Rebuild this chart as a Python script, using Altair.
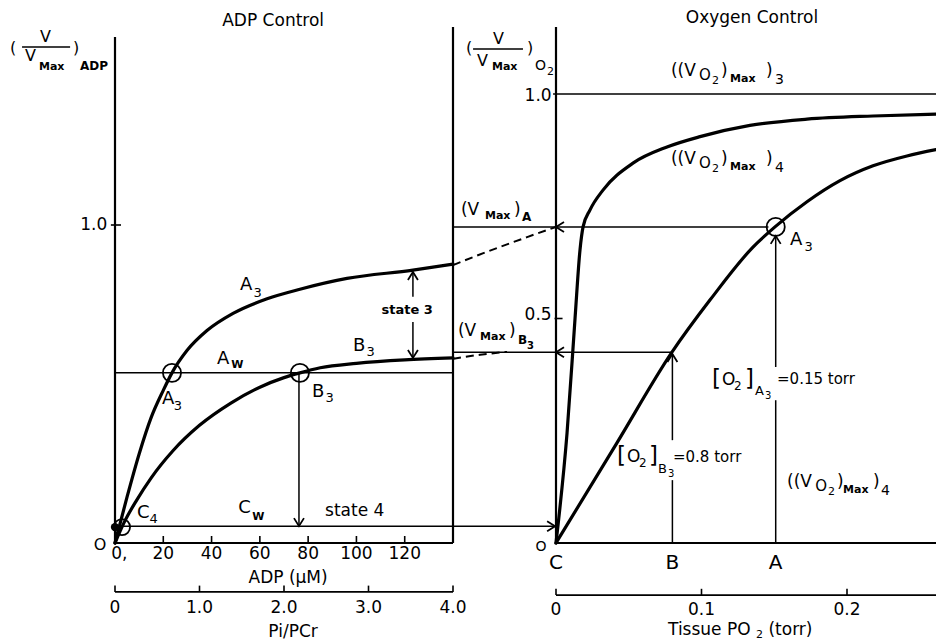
import altair as alt
import pandas as pd

FONT = "DejaVu Sans"

# ---------------- Left panel: ADP control (x = ADP µM, y = (V/Vmax)ADP) -------------
A3_ADP = [0, 5, 10, 15, 20, 23.6, 29.8, 38.1, 48.9, 63.0, 76.6, 96.1, 123.4, 140]
A3_V = [0, 0.145, 0.28, 0.395, 0.48, 0.535, 0.605, 0.668, 0.722, 0.768, 0.798, 0.832, 0.858, 0.877]
B3_ADP = [0, 4, 9, 15, 24, 35, 48, 60, 70, 76.6, 85, 100, 120, 140]
B3_V = [0, 0.068, 0.135, 0.205, 0.29, 0.37, 0.44, 0.49, 0.52, 0.535, 0.551, 0.565, 0.576, 0.582]
# dashed continuations between panels
DASH_A_ADP = [140, 148.3, 159.5, 170.7, 182.7]
DASH_A_V = [0.874, 0.899, 0.931, 0.962, 0.994]
DASH_B_ADP = [140, 151.2, 162.4]
DASH_B_V = [0.579, 0.592, 0.601]
ADP_TICKS = [20, 40, 60, 80, 100, 120]
ADP_LABELS = ["20", "40", "60", "80", "100", "120"]
PI_TICKS = [0, 1, 2, 3, 4]
PI_LABELS = ["0", "1.0", "2.0", "3.0", "4.0"]
AW_LEVEL = 0.535       # A_W working level
STATE4_LEVEL = 0.053   # C_W / state 4 level

# ---------------- Right panel: oxygen control (x = tissue PO2 torr, y = (V/Vmax)O2) ----
VO2MAX4_PO2 = [0, 0.0076, 0.0131, 0.0165, 0.0186, 0.0234, 0.0323, 0.0529, 0.0763, 0.099, 0.1333, 0.1725, 0.2179, 0.2612]
VO2MAX4_V = [0, 0.245, 0.501, 0.653, 0.704, 0.742, 0.786, 0.846, 0.882, 0.905, 0.930, 0.944, 0.951, 0.955]
MAIN_PO2 = [0, 0.0419, 0.0797, 0.1058, 0.1354, 0.1505, 0.1725, 0.1952, 0.2179, 0.2412, 0.2612]
MAIN_V = [0, 0.223, 0.425, 0.541, 0.659, 0.704, 0.760, 0.807, 0.840, 0.862, 0.876]
PO2_TICKS = [0, 0.1, 0.2]
PO2_LABELS = ["0", "0.1", "0.2"]
VMAX_A = 0.704   # (Vmax)_A level in O2 units
VMAX_B3 = 0.425  # (Vmax)_B3 level in O2 units
PO2_A3 = 0.151
PO2_B3 = 0.080

# ---------------- scales (layout) ----------------
LX = alt.Scale(domain=[0, 140], range=[115, 453], nice=False, zero=False)
LY = alt.Scale(domain=[0, 1], range=[543, 225], nice=False, zero=False)
PX = alt.Scale(domain=[0, 4], range=[115, 453], nice=False, zero=False)
RX = alt.Scale(domain=[0, 0.2], range=[556, 847], nice=False, zero=False)
RY = alt.Scale(domain=[0, 1], range=[543, 94], nice=False, zero=False)

layers = []


def xy(sx, sy):
    return dict(x=alt.X("x:Q", scale=sx, axis=None), y=alt.Y("y:Q", scale=sy, axis=None))


def rules(rows, sx, sy):
    df = pd.DataFrame(rows, columns=["x", "y", "x2", "y2", "w"])
    return alt.Chart(df).mark_rule(color="black", strokeCap="butt").encode(
        **xy(sx, sy), x2="x2:Q", y2="y2:Q", strokeWidth=alt.StrokeWidth("w:Q", scale=None))


def curve(xs, ys, sx, sy, width=3.2, dash=None):
    df = pd.DataFrame({"x": xs, "y": ys})
    kw = dict(color="black", strokeWidth=width, interpolate="monotone", strokeCap="round")
    if dash:
        kw["strokeDash"] = dash
        kw["strokeCap"] = "butt"
    return alt.Chart(df).mark_line(**kw).encode(**xy(sx, sy))


def pts(xs, ys, sx, sy, shape, size, filled=False, sw=1.8):
    df = pd.DataFrame({"x": xs, "y": ys})
    return alt.Chart(df).mark_point(shape=shape, size=size, filled=filled, color="black",
                                    strokeWidth=sw, opacity=1).encode(**xy(sx, sy))


def texts(rows, sx, sy, align="left", weight="normal"):
    # rows: (text, x, y, font size)
    df = pd.DataFrame(rows, columns=["t", "x", "y", "s"])
    return alt.Chart(df).mark_text(align=align, baseline="middle", font=FONT, color="black",
                                   fontWeight=weight).encode(
        **xy(sx, sy), text="t:N", size=alt.Size("s:Q", scale=None))


RIGHT = "M-1.6,-1L0,0L-1.6,1"
LEFT = "M1.6,-1L0,0L1.6,1"
UP = "M-1,1.6L0,0L1,1.6"
DOWN = "M-1,-1.6L0,0L1,-1.6"

# ---------- left panel lines ----------
left_rules = [
    (0, 0, 0, 1.591, 2.2),
    (0, 0, 140, 0, 2.2),
    (140, 0, 140, 1.623, 2.2),
    (-1.7, 1.0, 2.5, 1.0, 1.6),
    (0, AW_LEVEL, 140, AW_LEVEL, 1.5),
    (0, STATE4_LEVEL, 182.3, STATE4_LEVEL, 1.5),
    (76.2, AW_LEVEL, 76.2, STATE4_LEVEL, 1.5),
    (123.4, 0.852, 123.4, 0.774, 1.5),
    (123.4, 0.695, 123.4, 0.582, 1.5),
    (-38.5, 1.560, -18.6, 1.560, 1.5),
]
for t in ADP_TICKS:
    left_rules.append((t, 0, t, 0.022, 1.6))
layers.append(rules(left_rules, LX, LY))
layers.append(curve(A3_ADP, A3_V, LX, LY))
layers.append(curve(B3_ADP, B3_V, LX, LY))
layers.append(curve(DASH_A_ADP, DASH_A_V, LX, LY, width=2, dash=[8, 5]))
layers.append(curve(DASH_B_ADP, DASH_B_V, LX, LY, width=2, dash=[8, 5]))
layers.append(pts([23.6, 76.6], [AW_LEVEL, AW_LEVEL], LX, LY, "circle", 330))
layers.append(pts([2.9], [0.05], LX, LY, "circle", 260))
layers.append(pts([0], [0.05], LX, LY, "circle", 70, filled=True))
layers.append(pts([123.4], [0.852], LX, LY, UP, 100))
layers.append(pts([123.4, 76.2], [0.582, STATE4_LEVEL], LX, LY, DOWN, 100))
layers.append(pts([182.3], [STATE4_LEVEL], LX, LY, RIGHT, 100))

# Pi/PCr axis
pi_rules = [(0, -0.154, 4, -0.154, 1.8)] + [(p, -0.154, p, -0.134, 1.6) for p in PI_TICKS]
layers.append(rules(pi_rules, PX, LY))
layers.append(texts([(l, p, -0.204, 17) for p, l in zip(PI_TICKS, PI_LABELS)]
                    + [("Pi/PCr", 2.107, -0.280, 17)], PX, LY, align="center"))

# left texts
layers.append(texts([
    ("(", -43.5, 1.557, 16), ("V", -31.1, 1.590, 16), ("V", -37.3, 1.530, 16),
    (")", -17.4, 1.557, 16),
    ("A", 51.8, 0.811, 18), ("3", 57.4, 0.786, 13),
    ("A", 42.3, 0.579, 18),
    ("A", 19.5, 0.453, 18), ("3", 24.3, 0.432, 13),
    ("B", 81.6, 0.475, 18), ("3", 87.2, 0.457, 13),
    ("B", 98.6, 0.619, 18), ("3", 104.2, 0.600, 13),
    ("C", 9.1, 0.094, 18), ("4", 14.3, 0.076, 13),
    ("C", 51.0, 0.110, 18), ("state 4", 87.0, 0.101, 17),
], LX, LY))
layers.append(texts([
    ("Max", -31.5, 1.497, 11), ("ADP", -14.5, 1.500, 12),
    ("W", 48.1, 0.560, 11), ("W", 56.8, 0.082, 11),
], LX, LY, weight="bold"))
layers.append(texts([(l, t, -0.035, 17) for t, l in zip(ADP_TICKS, ADP_LABELS)] + [
    ("0,", 1.8, -0.035, 17), ("O", -6.2, -0.006, 16),
    ("ADP (μM)", 71.7, -0.110, 17), ("ADP  Control", 65.5, 1.642, 17),
], LX, LY, align="center"))
layers.append(texts([("state 3", 121.0, 0.733, 13)], LX, LY, align="center", weight="bold"))
layers.append(texts([("1.0", -3.2, 1.0, 17)], LX, LY, align="right"))

# ---------- right panel lines ----------
right_rules = [
    (0, 0, 0, 1.149, 2.2),
    (0, 0, 0.262, 0, 2.2),
    (-0.002, 1.0, 0.262, 1.0, 1.6),
    (-0.001, 0.5, 0.0045, 0.5, 1.6),
    (-0.0701, VMAX_A, PO2_A3 - 0.005, VMAX_A, 1.5),
    (-0.0701, VMAX_B3, PO2_B3, VMAX_B3, 1.5),
    (PO2_B3, 0, PO2_B3, 0.140, 1.5),
    (PO2_B3, 0.229, PO2_B3, 0.421, 1.5),
    (PO2_A3, 0, PO2_A3, 0.318, 1.5),
    (PO2_A3, 0.392, PO2_A3, 0.684, 1.5),
    (0, -0.116, 0.262, -0.116, 1.8),
    (-0.0570, 1.100, -0.0227, 1.100, 1.5),
]
for t in PO2_TICKS:
    right_rules.append((t, -0.116, t, -0.102, 1.6))
layers.append(rules(right_rules, RX, RY))
layers.append(curve(VO2MAX4_PO2, VO2MAX4_V, RX, RY))
layers.append(curve(MAIN_PO2, MAIN_V, RX, RY))
layers.append(pts([PO2_A3], [VMAX_A], RX, RY, "circle", 330))
layers.append(pts([0, 0], [VMAX_A, VMAX_B3], RX, RY, LEFT, 100))
layers.append(pts([PO2_B3, PO2_A3], [0.421, 0.684], RX, RY, UP, 100))

layers.append(texts([
    # y-axis label (V / Vmax)O2
    ("(", -0.0619, 1.102, 16), ("V", -0.0433, 1.1225, 16), (")", -0.0199, 1.102, 16),
    ("V", -0.0543, 1.073, 16), ("O", -0.0144, 1.062, 14), ("2", -0.0062, 1.048, 11),
    # (Vmax)A and (Vmax)B3
    ("(V", -0.0653, 0.742, 17), (")", -0.0289, 0.742, 17),
    ("(V", -0.0674, 0.472, 17), (")", -0.0323, 0.472, 17),
    # ((VO2)Max)3
    ("((V", 0.0790, 1.051, 17), ("O", 0.0983, 1.042, 15), ("2", 0.1072, 1.029, 11),
    (")", 0.1134, 1.051, 17), (")", 0.1443, 1.051, 17), ("3", 0.1505, 1.031, 14),
    # ((VO2)Max)4 upper
    ("((V", 0.0790, 0.855, 17), ("O", 0.0983, 0.846, 15), ("2", 0.1072, 0.833, 11),
    (")", 0.1134, 0.855, 17), (")", 0.1443, 0.855, 17), ("4", 0.1505, 0.835, 14),
    # ((VO2)Max)4 lower
    ("((V", 0.1588, 0.136, 17), ("O", 0.1781, 0.127, 15), ("2", 0.1870, 0.114, 11),
    (")", 0.1931, 0.136, 17), (")", 0.2179, 0.136, 17), ("4", 0.2234, 0.116, 14),
    # A3 on the O2 curve
    ("A", 0.1608, 0.675, 18), ("3", 0.1708, 0.659, 13),
    # [O2]A3 = 0.15 torr
    ("[", 0.1072, 0.365, 23), ("O", 0.1141, 0.363, 17), ("2", 0.1223, 0.349, 12),
    ("]", 0.1299, 0.365, 23), ("A", 0.1368, 0.339, 13), ("3", 0.1436, 0.328, 10),
    ("=0.15 torr", 0.1519, 0.365, 15),
    # [O2]B3 = 0.8 torr
    ("[", 0.0419, 0.194, 23), ("O", 0.0488, 0.192, 17), ("2", 0.0570, 0.178, 12),
    ("]", 0.0639, 0.194, 23), ("B", 0.0701, 0.165, 13), ("3", 0.0770, 0.153, 10),
    ("=0.8 torr", 0.0804, 0.192, 15),
    # x title
    ("Tissue  PO", 0.0770, -0.194, 17), ("2", 0.1375, -0.205, 11), ("(torr)", 0.1460, -0.194, 17),
], RX, RY))
layers.append(texts([
    ("Max", -0.0440, 1.060, 11),
    ("Max", -0.0488, 0.728, 11), ("A", -0.0234, 0.726, 12),
    ("Max", -0.0522, 0.459, 11), ("B", -0.0261, 0.452, 12), ("3", -0.0199, 0.439, 10),
    ("Max", 0.1196, 1.033, 11), ("Max", 0.1196, 0.837, 11), ("Max", 0.1973, 0.118, 11),
], RX, RY, weight="bold"))
layers.append(texts([(l, t, -0.149, 17) for t, l in zip(PO2_TICKS, PO2_LABELS)] + [
    ("Oxygen Control", 0.1347, 1.169, 17),
    ("C", 0, -0.045, 20), ("B", PO2_B3, -0.045, 20), ("A", PO2_A3, -0.045, 20),
    ("O", -0.0103, -0.009, 14),
], RX, RY, align="center"))
layers.append(texts([("1.0", -0.003, 0.996, 17), ("0.5", -0.003, 0.508, 17)], RX, RY, align="right"))

chart = alt.layer(*layers).resolve_scale(x="independent", y="independent").properties(
    width=936, height=642, padding=0, autosize=alt.AutoSizeParams(type="none"),
    background="white",
).configure_view(stroke=None)

chart.save("out.html", embed_options={"renderer": "svg", "actions": False})
